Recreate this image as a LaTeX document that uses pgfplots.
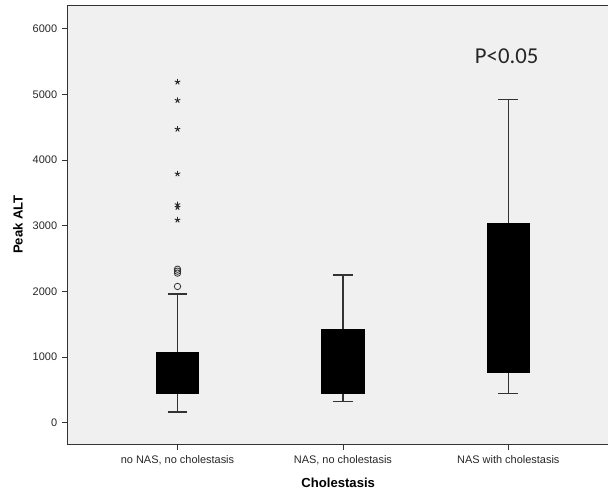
\documentclass[border=0pt]{standalone}
\usepackage{fontspec}
\setmainfont{Liberation Sans}
\newfontfamily\calibri{Carlito}
\usepackage{pgfplots}
\pgfplotsset{compat=1.18}
\usepgfplotslibrary{statistics}
\definecolor{bgc}{HTML}{F0F0F0}
\begin{document}
\begin{tikzpicture}
\begin{axis}[
  at={(0,0)}, anchor=south west,
  scale only axis,
  width=405.4pt, height=328.5pt,
  xmin=0.333, xmax=3.61,
  ymin=-325, ymax=6362,
  axis background/.style={fill=bgc},
  axis line style={draw=black!80, line width=0.6pt},
  xtick={1,2,3},
  xticklabels={{no NAS, no cholestasis}, {NAS, no cholestasis}, {NAS with cholestasis}},
  ytick={0,1000,2000,3000,4000,5000,6000},
  tick align=outside,
  major tick length=4pt,
  tick style={draw=black!80, line width=0.6pt},
  xtick pos=bottom, ytick pos=left,
  /pgf/number format/assume math mode=true,
  /pgf/number format/1000 sep={},
  ticklabel style={font=\fontsize{8.2}{9}\selectfont, text=black!85},
  xticklabel style={yshift=-1pt},
  xlabel={\textbf{Cholestasis}},
  ylabel={\textbf{Peak ALT}},
  label style={font=\fontsize{9.8}{11}\selectfont},
  xlabel style={at={(axis description cs:0.5,-0.089)}, anchor=center},
  ylabel style={at={(axis description cs:-0.0907,0.5)}, anchor=center},
  boxplot/draw direction=y,
  boxplot/every median/.style={draw=black, line width=0.4pt},
  boxplot/every box/.style={draw=black, fill=black, line width=0.6pt},
  clip=false,
]
\addplot+[boxplot prepared={draw position=1, lower whisker=168, lower quartile=443, median=650, upper quartile=1080, upper whisker=1960, box extend=0.255, whisker extend=0.12}, draw=black!80, line width=1pt, solid, mark=none] coordinates {};
\addplot+[boxplot prepared={draw position=2, lower whisker=321, lower quartile=443, median=700, upper quartile=1426, upper whisker=2250, box extend=0.255, whisker extend=0.12}, draw=black!80, line width=1pt, solid, mark=none] coordinates {};
\addplot+[boxplot prepared={draw position=3, lower whisker=443, lower quartile=774, median=1600, upper quartile=3038, upper whisker=4922, box extend=0.255, whisker extend=0.12}, draw=black!80, line width=1pt, solid, mark=none] coordinates {};
% outliers (circles)
\addplot[only marks, mark=o, mark size=2.4pt, mark options={draw=black!80, fill=bgc, line width=0.6pt}] coordinates {(1,2077) (1,2280) (1,2310) (1,2340)};
% extreme values (stars)
\addplot[only marks, mark=star, mark size=2.2pt, mark options={draw=black!85, line width=0.7pt}] coordinates {(1,5191) (1,4911) (1,4473) (1,3792) (1,3323) (1,3282) (1,3090)};
\node[font=\calibri\fontsize{17}{19}\selectfont, text=black!85] at (axis cs:2.99,5583) {P<0.05};
\end{axis}
\pgfresetboundingbox
\useasboundingbox (-50.25pt,-35.25pt) rectangle (404.5pt,332.25pt);
\end{tikzpicture}
\end{document}
